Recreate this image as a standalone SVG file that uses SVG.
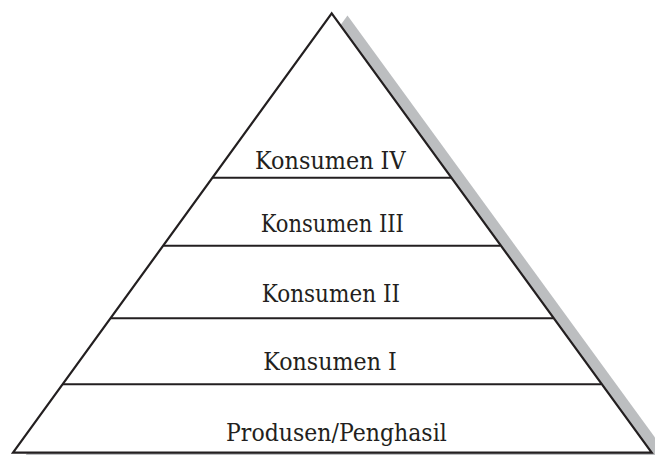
<svg xmlns="http://www.w3.org/2000/svg" width="655" height="455" viewBox="0 0 655 455">
<style>
.lbl{font-family:"DejaVu Serif","Liberation Serif",serif;font-size:23.5px;fill:#231f20;text-anchor:middle}
.ln{stroke:#231f20;stroke-width:2;fill:none}
</style>
<rect width="655" height="455" fill="#ffffff"/>
<g id="shadow">
<polygon points="347.5,15.5 668.5,456 25,456" fill="#bcbec0"/>
</g>
<g id="pyramid">
<polygon points="331.7,13.3 651.7,452.7 13,452.7" fill="#ffffff" stroke="#231f20" stroke-width="2.2" stroke-linejoin="miter"/>
</g>
<g id="connectors">
<line class="ln" x1="212.5" y1="177.7" x2="451" y2="177.7"/>
<line class="ln" x1="163.4" y1="245.7" x2="500.3" y2="245.7"/>
<line class="ln" x1="110.6" y1="318.3" x2="553" y2="318.3"/>
<line class="ln" x1="62.8" y1="384.3" x2="601" y2="384.3"/>
</g>
<g id="konsumen4"><text class="lbl" x="330.3" y="169.3" textLength="150.5" lengthAdjust="spacingAndGlyphs">Konsumen IV</text></g>
<g id="konsumen3"><text class="lbl" x="332.3" y="231.7" textLength="143.3" lengthAdjust="spacingAndGlyphs">Konsumen III</text></g>
<g id="konsumen2"><text class="lbl" x="330.8" y="302.3" textLength="138.3" lengthAdjust="spacingAndGlyphs">Konsumen II</text></g>
<g id="konsumen1"><text class="lbl" x="330" y="370" textLength="133.4" lengthAdjust="spacingAndGlyphs">Konsumen I</text></g>
<g id="produsen"><text class="lbl" x="336.4" y="440.5" textLength="220.7" lengthAdjust="spacingAndGlyphs">Produsen/Penghasil</text></g>
</svg>
